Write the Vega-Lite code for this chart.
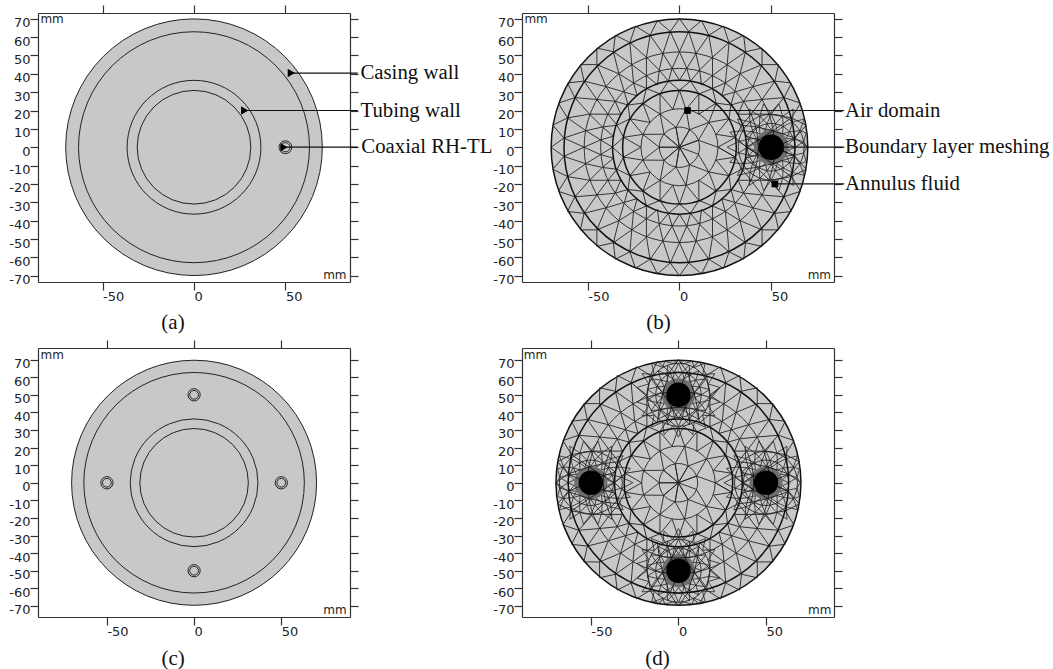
{"$schema":"https://vega.github.io/schema/vega-lite/v6.json","background":"white","padding":{"left":8,"top":4,"right":0,"bottom":0},"resolve":{"scale":{"size":"independent"}},
"config":{"view":{"stroke":null},"axis":{"grid":false,"title":null,"domainColor":"#333","tickColor":"#333","domainWidth":1.2,"tickWidth":1.2,"tickSize":8,"labelFont":"DejaVu Sans","labelFontSize":13,"labelColor":"#222"}},
"datasets":{
"one":[{"x":0,"y":0}],
"base":[{"x":70,"y":0},{"x":63,"y":5},{"x":69,"y":12},{"x":61,"y":16},{"x":66,"y":24},{"x":57,"y":27},{"x":61,"y":35},{"x":52,"y":36},{"x":54,"y":45},{"x":45,"y":45},{"x":45,"y":54},{"x":36,"y":52},{"x":35,"y":61},{"x":27,"y":57},{"x":24,"y":66},{"x":16,"y":61},{"x":12,"y":69},{"x":5,"y":63},{"x":0,"y":70},{"x":-5,"y":63},{"x":-12,"y":69},{"x":-16,"y":61},{"x":-24,"y":66},{"x":-27,"y":57},{"x":-35,"y":61},{"x":-36,"y":52},{"x":-45,"y":54},{"x":-45,"y":45},{"x":-54,"y":45},{"x":-52,"y":36},{"x":-61,"y":35},{"x":-57,"y":27},{"x":-66,"y":24},{"x":-61,"y":16},{"x":-69,"y":12},{"x":-63,"y":5},{"x":-70,"y":0},{"x":-63,"y":-5},{"x":-69,"y":-12},{"x":-61,"y":-16},{"x":-66,"y":-24},{"x":-57,"y":-27},{"x":-61,"y":-35},{"x":-52,"y":-36},{"x":-54,"y":-45},{"x":-45,"y":-45},{"x":-45,"y":-54},{"x":-36,"y":-52},{"x":-35,"y":-61},{"x":-27,"y":-57},{"x":-24,"y":-66},{"x":-16,"y":-61},{"x":-12,"y":-69},{"x":-5,"y":-63},{"x":0,"y":-70},{"x":5,"y":-63},{"x":12,"y":-69},{"x":16,"y":-61},{"x":24,"y":-66},{"x":27,"y":-57},{"x":35,"y":-61},{"x":36,"y":-52},{"x":45,"y":-54},{"x":45,"y":-45},{"x":54,"y":-45},{"x":52,"y":-36},{"x":61,"y":-35},{"x":57,"y":-27},{"x":66,"y":-24},{"x":61,"y":-16},{"x":69,"y":-12},{"x":63,"y":-5},
{"x":52,"y":0},{"x":63,"y":5},{"x":51,"y":9},{"x":61,"y":16},{"x":49,"y":18},{"x":57,"y":27},{"x":45,"y":26},{"x":52,"y":36},{"x":40,"y":33},{"x":45,"y":45},{"x":33,"y":40},{"x":36,"y":52},{"x":26,"y":45},{"x":27,"y":57},{"x":18,"y":49},{"x":16,"y":61},{"x":9,"y":51},{"x":5,"y":63},{"x":0,"y":52},{"x":-5,"y":63},{"x":-9,"y":51},{"x":-16,"y":61},{"x":-18,"y":49},{"x":-27,"y":57},{"x":-26,"y":45},{"x":-36,"y":52},{"x":-33,"y":40},{"x":-45,"y":45},{"x":-40,"y":33},{"x":-52,"y":36},{"x":-45,"y":26},{"x":-57,"y":27},{"x":-49,"y":18},{"x":-61,"y":16},{"x":-51,"y":9},{"x":-63,"y":5},{"x":-52,"y":0},{"x":-63,"y":-5},{"x":-51,"y":-9},{"x":-61,"y":-16},{"x":-49,"y":-18},{"x":-57,"y":-27},{"x":-45,"y":-26},{"x":-52,"y":-36},{"x":-40,"y":-33},{"x":-45,"y":-45},{"x":-33,"y":-40},{"x":-36,"y":-52},{"x":-26,"y":-45},{"x":-27,"y":-57},{"x":-18,"y":-49},{"x":-16,"y":-61},{"x":-9,"y":-51},{"x":-5,"y":-63},{"x":0,"y":-52},{"x":5,"y":-63},{"x":9,"y":-51},{"x":16,"y":-61},{"x":18,"y":-49},{"x":27,"y":-57},{"x":26,"y":-45},{"x":36,"y":-52},{"x":33,"y":-40},{"x":45,"y":-45},{"x":40,"y":-33},{"x":52,"y":-36},{"x":45,"y":-26},{"x":57,"y":-27},{"x":49,"y":-18},{"x":61,"y":-16},{"x":51,"y":-9},{"x":63,"y":-5},
{"x":52,"y":0},{"x":43,"y":4},{"x":51,"y":9},{"x":42,"y":11},{"x":49,"y":18},{"x":39,"y":18},{"x":45,"y":26},{"x":35,"y":25},{"x":40,"y":33},{"x":30,"y":30},{"x":33,"y":40},{"x":25,"y":35},{"x":26,"y":45},{"x":18,"y":39},{"x":18,"y":49},{"x":11,"y":42},{"x":9,"y":51},{"x":4,"y":43},{"x":0,"y":52},{"x":-4,"y":43},{"x":-9,"y":51},{"x":-11,"y":42},{"x":-18,"y":49},{"x":-18,"y":39},{"x":-26,"y":45},{"x":-25,"y":35},{"x":-33,"y":40},{"x":-30,"y":30},{"x":-40,"y":33},{"x":-35,"y":25},{"x":-45,"y":26},{"x":-39,"y":18},{"x":-49,"y":18},{"x":-42,"y":11},{"x":-51,"y":9},{"x":-43,"y":4},{"x":-52,"y":0},{"x":-43,"y":-4},{"x":-51,"y":-9},{"x":-42,"y":-11},{"x":-49,"y":-18},{"x":-39,"y":-18},{"x":-45,"y":-26},{"x":-35,"y":-25},{"x":-40,"y":-33},{"x":-30,"y":-30},{"x":-33,"y":-40},{"x":-25,"y":-35},{"x":-26,"y":-45},{"x":-18,"y":-39},{"x":-18,"y":-49},{"x":-11,"y":-42},{"x":-9,"y":-51},{"x":-4,"y":-43},{"x":0,"y":-52},{"x":4,"y":-43},{"x":9,"y":-51},{"x":11,"y":-42},{"x":18,"y":-49},{"x":18,"y":-39},{"x":26,"y":-45},{"x":25,"y":-35},{"x":33,"y":-40},{"x":30,"y":-30},{"x":40,"y":-33},{"x":35,"y":-25},{"x":45,"y":-26},{"x":39,"y":-18},{"x":49,"y":-18},{"x":42,"y":-11},{"x":51,"y":-9},{"x":43,"y":-4},
{"x":36.5,"y":0},{"x":43,"y":4},{"x":36,"y":6},{"x":42,"y":11},{"x":34,"y":12},{"x":39,"y":18},{"x":32,"y":18},{"x":35,"y":25},{"x":28,"y":23},{"x":30,"y":30},{"x":23,"y":28},{"x":25,"y":35},{"x":18,"y":32},{"x":18,"y":39},{"x":12,"y":34},{"x":11,"y":42},{"x":6,"y":36},{"x":4,"y":43},{"x":0,"y":36.5},{"x":-4,"y":43},{"x":-6,"y":36},{"x":-11,"y":42},{"x":-12,"y":34},{"x":-18,"y":39},{"x":-18,"y":32},{"x":-25,"y":35},{"x":-23,"y":28},{"x":-30,"y":30},{"x":-28,"y":23},{"x":-35,"y":25},{"x":-32,"y":18},{"x":-39,"y":18},{"x":-34,"y":12},{"x":-42,"y":11},{"x":-36,"y":6},{"x":-43,"y":4},{"x":-36.5,"y":0},{"x":-43,"y":-4},{"x":-36,"y":-6},{"x":-42,"y":-11},{"x":-34,"y":-12},{"x":-39,"y":-18},{"x":-32,"y":-18},{"x":-35,"y":-25},{"x":-28,"y":-23},{"x":-30,"y":-30},{"x":-23,"y":-28},{"x":-25,"y":-35},{"x":-18,"y":-32},{"x":-18,"y":-39},{"x":-12,"y":-34},{"x":-11,"y":-42},{"x":-6,"y":-36},{"x":-4,"y":-43},{"x":0,"y":-36.5},{"x":4,"y":-43},{"x":6,"y":-36},{"x":11,"y":-42},{"x":12,"y":-34},{"x":18,"y":-39},{"x":18,"y":-32},{"x":25,"y":-35},{"x":23,"y":-28},{"x":30,"y":-30},{"x":28,"y":-23},{"x":35,"y":-25},{"x":32,"y":-18},{"x":39,"y":-18},{"x":34,"y":-12},{"x":42,"y":-11},{"x":36,"y":-6},{"x":43,"y":-4},
{"x":36.5,"y":0},{"x":30.5,"y":5.4},{"x":34,"y":12},{"x":27,"y":15.5},{"x":28,"y":23},{"x":20,"y":24},{"x":18,"y":32},{"x":10.6,"y":29},{"x":6,"y":36},{"x":0,"y":31},{"x":-6,"y":36},{"x":-10.6,"y":29},{"x":-18,"y":32},{"x":-20,"y":24},{"x":-28,"y":23},{"x":-27,"y":15.5},{"x":-34,"y":12},{"x":-30.5,"y":5.4},{"x":-36.5,"y":0},{"x":-30.5,"y":-5.4},{"x":-34,"y":-12},{"x":-27,"y":-15.5},{"x":-28,"y":-23},{"x":-20,"y":-24},{"x":-18,"y":-32},{"x":-10.6,"y":-29},{"x":-6,"y":-36},{"x":0,"y":-31},{"x":6,"y":-36},{"x":10.6,"y":-29},{"x":18,"y":-32},{"x":20,"y":-24},{"x":28,"y":-23},{"x":27,"y":-15.5},{"x":34,"y":-12},{"x":30.5,"y":-5.4},
{"x":21,"y":0},{"x":30.5,"y":5.4},{"x":20,"y":7},{"x":27,"y":15.5},{"x":16,"y":13.5},{"x":20,"y":24},{"x":10.5,"y":18},{"x":10.6,"y":29},{"x":3.6,"y":20.7},{"x":0,"y":31},{"x":-3.6,"y":20.7},{"x":-10.6,"y":29},{"x":-10.5,"y":18},{"x":-20,"y":24},{"x":-16,"y":13.5},{"x":-27,"y":15.5},{"x":-20,"y":7},{"x":-30.5,"y":5.4},{"x":-21,"y":0},{"x":-30.5,"y":-5.4},{"x":-20,"y":-7},{"x":-27,"y":-15.5},{"x":-16,"y":-13.5},{"x":-20,"y":-24},{"x":-10.5,"y":-18},{"x":-10.6,"y":-29},{"x":-3.6,"y":-20.7},{"x":0,"y":-31},{"x":3.6,"y":-20.7},{"x":10.6,"y":-29},{"x":10.5,"y":-18},{"x":20,"y":-24},{"x":16,"y":-13.5},{"x":27,"y":-15.5},{"x":20,"y":-7},{"x":30.5,"y":-5.4},
{"x":21,"y":0},{"x":10.3,"y":3.8},{"x":16,"y":13.5},{"x":5.5,"y":9.5},{"x":3.6,"y":20.7},{"x":-1.9,"y":10.8},{"x":-10.5,"y":18},{"x":-8.4,"y":7.1},{"x":-20,"y":7},{"x":-11,"y":0},{"x":-20,"y":-7},{"x":-8.4,"y":-7.1},{"x":-10.5,"y":-18},{"x":-1.9,"y":-10.8},{"x":3.6,"y":-20.7},{"x":5.5,"y":-9.5},{"x":16,"y":-13.5},{"x":10.3,"y":-3.8},
{"x":0,"y":0},{"x":10.3,"y":3.8},{"x":0,"y":0},{"x":5.5,"y":9.5},{"x":0,"y":0},{"x":-1.9,"y":10.8},{"x":0,"y":0},{"x":-8.4,"y":7.1},{"x":0,"y":0},{"x":-11,"y":0},{"x":0,"y":0},{"x":-8.4,"y":-7.1},{"x":0,"y":0},{"x":-1.9,"y":-10.8},{"x":0,"y":0},{"x":5.5,"y":-9.5},{"x":0,"y":0}],
"bE":[{"x":63,"y":0},{"x":59.4,"y":1.6},{"x":62.2,"y":4.4},{"x":58.2,"y":4.8},{"x":60,"y":8.4},{"x":56.1,"y":7.3},{"x":56.5,"y":11.3},{"x":53.2,"y":8.9},{"x":52.3,"y":12.8},{"x":50,"y":9.5},{"x":47.7,"y":12.8},{"x":46.8,"y":8.9},{"x":43.5,"y":11.3},{"x":43.9,"y":7.3},{"x":40,"y":8.4},{"x":41.8,"y":4.8},{"x":37.8,"y":4.4},{"x":40.6,"y":1.6},{"x":37,"y":0},{"x":40.6,"y":-1.6},{"x":37.8,"y":-4.4},{"x":41.8,"y":-4.8},{"x":40,"y":-8.4},{"x":43.9,"y":-7.3},{"x":43.5,"y":-11.3},{"x":46.8,"y":-8.9},{"x":47.7,"y":-12.8},{"x":50,"y":-9.5},{"x":52.3,"y":-12.8},{"x":53.2,"y":-8.9},{"x":56.5,"y":-11.3},{"x":56.1,"y":-7.3},{"x":60,"y":-8.4},{"x":58.2,"y":-4.8},{"x":62.2,"y":-4.4},{"x":59.4,"y":-1.6},{"x":63,"y":0},{"x":67.7,"y":3.1},{"x":62.2,"y":4.4},{"x":65.6,"y":9},{"x":60,"y":8.4},{"x":61.6,"y":13.8},{"x":56.5,"y":11.3},{"x":56.2,"y":16.9},{"x":52.3,"y":12.8},{"x":50,"y":18},{"x":47.7,"y":12.8},{"x":43.8,"y":16.9},{"x":43.5,"y":11.3},{"x":38.4,"y":13.8},{"x":40,"y":8.4},{"x":34.4,"y":9},{"x":37.8,"y":4.4},{"x":32.3,"y":3.1},{"x":37,"y":0},{"x":32.3,"y":-3.1},{"x":37.8,"y":-4.4},{"x":34.4,"y":-9},{"x":40,"y":-8.4},{"x":38.4,"y":-13.8},{"x":43.5,"y":-11.3},{"x":43.8,"y":-16.9},{"x":47.7,"y":-12.8},{"x":50,"y":-18},{"x":52.3,"y":-12.8},{"x":56.2,"y":-16.9},{"x":56.5,"y":-11.3},{"x":61.6,"y":-13.8},{"x":60,"y":-8.4},{"x":65.6,"y":-9},{"x":62.2,"y":-4.4},{"x":67.7,"y":-3.1},
{"x":69.5,"y":0},{"x":67.7,"y":3.1},{"x":69,"y":7.8},{"x":65.6,"y":9},{"x":68,"y":15.3},{"x":61.6,"y":13.8},{"x":62,"y":20.8},{"x":56.2,"y":16.9},{"x":54.2,"y":23.6},{"x":50,"y":18},{"x":45.8,"y":23.6},{"x":43.8,"y":16.9},{"x":38,"y":20.8},{"x":38.4,"y":13.8},{"x":31.6,"y":15.4},{"x":34.4,"y":9},{"x":27.4,"y":8.2},{"x":32.3,"y":3.1},{"x":26,"y":0},{"x":32.3,"y":-3.1},{"x":27.4,"y":-8.2},{"x":34.4,"y":-9},{"x":31.6,"y":-15.4},{"x":38.4,"y":-13.8},{"x":38,"y":-20.8},{"x":43.8,"y":-16.9},{"x":45.8,"y":-23.6},{"x":50,"y":-18},{"x":54.2,"y":-23.6},{"x":56.2,"y":-16.9},{"x":62,"y":-20.8},{"x":61.6,"y":-13.8},{"x":68,"y":-15.3},{"x":65.6,"y":-9},{"x":69,"y":-7.8},{"x":67.7,"y":-3.1}],
"bW":[{"x":-37,"y":0},{"x":-40.6,"y":1.6},{"x":-37.8,"y":4.4},{"x":-41.8,"y":4.8},{"x":-40,"y":8.4},{"x":-43.9,"y":7.3},{"x":-43.5,"y":11.3},{"x":-46.8,"y":8.9},{"x":-47.7,"y":12.8},{"x":-50,"y":9.5},{"x":-52.3,"y":12.8},{"x":-53.2,"y":8.9},{"x":-56.5,"y":11.3},{"x":-56.1,"y":7.3},{"x":-60,"y":8.4},{"x":-58.2,"y":4.8},{"x":-62.2,"y":4.4},{"x":-59.4,"y":1.6},{"x":-63,"y":0},{"x":-59.4,"y":-1.6},{"x":-62.2,"y":-4.4},{"x":-58.2,"y":-4.8},{"x":-60,"y":-8.4},{"x":-56.1,"y":-7.3},{"x":-56.5,"y":-11.3},{"x":-53.2,"y":-8.9},{"x":-52.3,"y":-12.8},{"x":-50,"y":-9.5},{"x":-47.7,"y":-12.8},{"x":-46.8,"y":-8.9},{"x":-43.5,"y":-11.3},{"x":-43.9,"y":-7.3},{"x":-40,"y":-8.4},{"x":-41.8,"y":-4.8},{"x":-37.8,"y":-4.4},{"x":-40.6,"y":-1.6},{"x":-37,"y":0},{"x":-32.3,"y":3.1},{"x":-37.8,"y":4.4},{"x":-34.4,"y":9},{"x":-40,"y":8.4},{"x":-38.4,"y":13.8},{"x":-43.5,"y":11.3},{"x":-43.8,"y":16.9},{"x":-47.7,"y":12.8},{"x":-50,"y":18},{"x":-52.3,"y":12.8},{"x":-56.2,"y":16.9},{"x":-56.5,"y":11.3},{"x":-61.6,"y":13.8},{"x":-60,"y":8.4},{"x":-65.6,"y":9},{"x":-62.2,"y":4.4},{"x":-67.7,"y":3.1},{"x":-63,"y":0},{"x":-67.7,"y":-3.1},{"x":-62.2,"y":-4.4},{"x":-65.6,"y":-9},{"x":-60,"y":-8.4},{"x":-61.6,"y":-13.8},{"x":-56.5,"y":-11.3},{"x":-56.2,"y":-16.9},{"x":-52.3,"y":-12.8},{"x":-50,"y":-18},{"x":-47.7,"y":-12.8},{"x":-43.8,"y":-16.9},{"x":-43.5,"y":-11.3},{"x":-38.4,"y":-13.8},{"x":-40,"y":-8.4},{"x":-34.4,"y":-9},{"x":-37.8,"y":-4.4},{"x":-32.3,"y":-3.1},
{"x":-26,"y":0},{"x":-32.3,"y":3.1},{"x":-27.4,"y":8.2},{"x":-34.4,"y":9},{"x":-31.6,"y":15.4},{"x":-38.4,"y":13.8},{"x":-38,"y":20.8},{"x":-43.8,"y":16.9},{"x":-45.8,"y":23.6},{"x":-50,"y":18},{"x":-54.2,"y":23.6},{"x":-56.2,"y":16.9},{"x":-62,"y":20.8},{"x":-61.6,"y":13.8},{"x":-68,"y":15.3},{"x":-65.6,"y":9},{"x":-69,"y":7.8},{"x":-67.7,"y":3.1},{"x":-69.5,"y":0},{"x":-67.7,"y":-3.1},{"x":-69,"y":-7.8},{"x":-65.6,"y":-9},{"x":-68,"y":-15.3},{"x":-61.6,"y":-13.8},{"x":-62,"y":-20.8},{"x":-56.2,"y":-16.9},{"x":-54.2,"y":-23.6},{"x":-50,"y":-18},{"x":-45.8,"y":-23.6},{"x":-43.8,"y":-16.9},{"x":-38,"y":-20.8},{"x":-38.4,"y":-13.8},{"x":-31.6,"y":-15.4},{"x":-34.4,"y":-9},{"x":-27.4,"y":-8.2},{"x":-32.3,"y":-3.1}],
"bN":[{"x":13,"y":50},{"x":9.4,"y":51.6},{"x":12.2,"y":54.4},{"x":8.2,"y":54.8},{"x":10,"y":58.4},{"x":6.1,"y":57.3},{"x":6.5,"y":61.3},{"x":3.2,"y":58.9},{"x":2.3,"y":62.8},{"x":0,"y":59.5},{"x":-2.3,"y":62.8},{"x":-3.2,"y":58.9},{"x":-6.5,"y":61.3},{"x":-6.1,"y":57.3},{"x":-10,"y":58.4},{"x":-8.2,"y":54.8},{"x":-12.2,"y":54.4},{"x":-9.4,"y":51.6},{"x":-13,"y":50},{"x":-9.4,"y":48.4},{"x":-12.2,"y":45.6},{"x":-8.2,"y":45.2},{"x":-10,"y":41.6},{"x":-6.1,"y":42.7},{"x":-6.5,"y":38.7},{"x":-3.2,"y":41.1},{"x":-2.3,"y":37.2},{"x":0,"y":40.5},{"x":2.3,"y":37.2},{"x":3.2,"y":41.1},{"x":6.5,"y":38.7},{"x":6.1,"y":42.7},{"x":10,"y":41.6},{"x":8.2,"y":45.2},{"x":12.2,"y":45.6},{"x":9.4,"y":48.4},{"x":13,"y":50},{"x":17.7,"y":53.1},{"x":12.2,"y":54.4},{"x":15.6,"y":59},{"x":10,"y":58.4},{"x":11.6,"y":63.8},{"x":6.5,"y":61.3},{"x":6.2,"y":66.9},{"x":2.3,"y":62.8},{"x":0,"y":68},{"x":-2.3,"y":62.8},{"x":-6.2,"y":66.9},{"x":-6.5,"y":61.3},{"x":-11.6,"y":63.8},{"x":-10,"y":58.4},{"x":-15.6,"y":59},{"x":-12.2,"y":54.4},{"x":-17.7,"y":53.1},{"x":-13,"y":50},{"x":-17.7,"y":46.9},{"x":-12.2,"y":45.6},{"x":-15.6,"y":41},{"x":-10,"y":41.6},{"x":-11.6,"y":36.2},{"x":-6.5,"y":38.7},{"x":-6.2,"y":33.1},{"x":-2.3,"y":37.2},{"x":0,"y":32},{"x":2.3,"y":37.2},{"x":6.2,"y":33.1},{"x":6.5,"y":38.7},{"x":11.6,"y":36.2},{"x":10,"y":41.6},{"x":15.6,"y":41},{"x":12.2,"y":45.6},{"x":17.7,"y":46.9},
{"x":23.6,"y":54.2},{"x":18,"y":50},{"x":23.6,"y":45.8},{"x":16.9,"y":43.8},{"x":20.8,"y":38},{"x":13.8,"y":38.4},{"x":15.4,"y":31.6},{"x":9,"y":34.4},{"x":8.2,"y":27.4},{"x":3.1,"y":32.3},{"x":0,"y":26},{"x":-3.1,"y":32.3},{"x":-8.2,"y":27.4},{"x":-9,"y":34.4},{"x":-15.4,"y":31.6},{"x":-13.8,"y":38.4},{"x":-20.8,"y":38},{"x":-16.9,"y":43.8},{"x":-23.6,"y":45.8},{"x":-18,"y":50},{"x":-23.6,"y":54.2},{"x":-16.9,"y":56.2},{"x":-20.8,"y":62},{"x":-13.8,"y":61.6},{"x":-15.3,"y":68},{"x":-9,"y":65.6},{"x":-7.8,"y":69},{"x":-3.1,"y":67.7},{"x":0,"y":69.5},{"x":3.1,"y":67.7},{"x":7.8,"y":69},{"x":9,"y":65.6},{"x":15.3,"y":68},{"x":13.8,"y":61.6},{"x":20.8,"y":62},{"x":16.9,"y":56.2},{"x":23.6,"y":54.2}],
"bS":[{"x":13,"y":-50},{"x":9.4,"y":-48.4},{"x":12.2,"y":-45.6},{"x":8.2,"y":-45.2},{"x":10,"y":-41.6},{"x":6.1,"y":-42.7},{"x":6.5,"y":-38.7},{"x":3.2,"y":-41.1},{"x":2.3,"y":-37.2},{"x":0,"y":-40.5},{"x":-2.3,"y":-37.2},{"x":-3.2,"y":-41.1},{"x":-6.5,"y":-38.7},{"x":-6.1,"y":-42.7},{"x":-10,"y":-41.6},{"x":-8.2,"y":-45.2},{"x":-12.2,"y":-45.6},{"x":-9.4,"y":-48.4},{"x":-13,"y":-50},{"x":-9.4,"y":-51.6},{"x":-12.2,"y":-54.4},{"x":-8.2,"y":-54.8},{"x":-10,"y":-58.4},{"x":-6.1,"y":-57.3},{"x":-6.5,"y":-61.3},{"x":-3.2,"y":-58.9},{"x":-2.3,"y":-62.8},{"x":0,"y":-59.5},{"x":2.3,"y":-62.8},{"x":3.2,"y":-58.9},{"x":6.5,"y":-61.3},{"x":6.1,"y":-57.3},{"x":10,"y":-58.4},{"x":8.2,"y":-54.8},{"x":12.2,"y":-54.4},{"x":9.4,"y":-51.6},{"x":13,"y":-50},{"x":17.7,"y":-46.9},{"x":12.2,"y":-45.6},{"x":15.6,"y":-41},{"x":10,"y":-41.6},{"x":11.6,"y":-36.2},{"x":6.5,"y":-38.7},{"x":6.2,"y":-33.1},{"x":2.3,"y":-37.2},{"x":0,"y":-32},{"x":-2.3,"y":-37.2},{"x":-6.2,"y":-33.1},{"x":-6.5,"y":-38.7},{"x":-11.6,"y":-36.2},{"x":-10,"y":-41.6},{"x":-15.6,"y":-41},{"x":-12.2,"y":-45.6},{"x":-17.7,"y":-46.9},{"x":-13,"y":-50},{"x":-17.7,"y":-53.1},{"x":-12.2,"y":-54.4},{"x":-15.6,"y":-59},{"x":-10,"y":-58.4},{"x":-11.6,"y":-63.8},{"x":-6.5,"y":-61.3},{"x":-6.2,"y":-66.9},{"x":-2.3,"y":-62.8},{"x":0,"y":-68},{"x":2.3,"y":-62.8},{"x":6.2,"y":-66.9},{"x":6.5,"y":-61.3},{"x":11.6,"y":-63.8},{"x":10,"y":-58.4},{"x":15.6,"y":-59},{"x":12.2,"y":-54.4},{"x":17.7,"y":-53.1},
{"x":23.6,"y":-54.2},{"x":18,"y":-50},{"x":23.6,"y":-45.8},{"x":16.9,"y":-43.8},{"x":20.8,"y":-38},{"x":13.8,"y":-38.4},{"x":15.4,"y":-31.6},{"x":9,"y":-34.4},{"x":8.2,"y":-27.4},{"x":3.1,"y":-32.3},{"x":0,"y":-26},{"x":-3.1,"y":-32.3},{"x":-8.2,"y":-27.4},{"x":-9,"y":-34.4},{"x":-15.4,"y":-31.6},{"x":-13.8,"y":-38.4},{"x":-20.8,"y":-38},{"x":-16.9,"y":-43.8},{"x":-23.6,"y":-45.8},{"x":-18,"y":-50},{"x":-23.6,"y":-54.2},{"x":-16.9,"y":-56.2},{"x":-20.8,"y":-62},{"x":-13.8,"y":-61.6},{"x":-15.3,"y":-68},{"x":-9,"y":-65.6},{"x":-7.8,"y":-69},{"x":-3.1,"y":-67.7},{"x":0,"y":-69.5},{"x":3.1,"y":-67.7},{"x":7.8,"y":-69},{"x":9,"y":-65.6},{"x":15.3,"y":-68},{"x":13.8,"y":-61.6},{"x":20.8,"y":-62},{"x":16.9,"y":-56.2},{"x":23.6,"y":-54.2}]
},
"concat":[
{"width":312,"height":269,"encoding":{"x":{"field":"x","type":"quantitative","scale":{"domain":[-85.3,85.3],"nice":false},"axis":null},"y":{"field":"y","type":"quantitative","scale":{"domain":[-73.4,73.1],"nice":false},"axis":null}},"resolve":{"axis":{"x":"independent","y":"independent"}},
"layer":[
{"data":{"name":"one"},"mark":{"type":"point","opacity":0},"encoding":{"x":{"field":"x","type":"quantitative","scale":{"domain":[-85.3,85.3],"nice":false},"axis":{"orient":"bottom","values":[-50,0,50],"labelAlign":"left","labelBaseline":"top","labelPadding":0,"labelExpr":"replace(datum.label,'−','-')"}},"y":{"field":"y","type":"quantitative","scale":{"domain":[-73.4,73.1],"nice":false},"axis":{"orient":"left","values":[-70,-60,-50,-40,-30,-20,-10,0,10,20,30,40,50,60,70],"labelOffset":4,"labelPadding":0,"labelExpr":"replace(datum.label,'−','-')"}}}},
{"data":{"name":"one"},"mark":{"type":"point","opacity":0},"encoding":{"x":{"field":"x","type":"quantitative","scale":{"domain":[-85.3,85.3],"nice":false},"axis":{"orient":"top","values":[-50,0,50],"labels":false}},"y":{"field":"y","type":"quantitative","scale":{"domain":[-73.4,73.1],"nice":false},"axis":{"orient":"right","values":[-70,-60,-50,-40,-30,-20,-10,0,10,20,30,40,50,60,70],"labels":false}}}},
{"data":{"values":[{"x":0,"y":0,"r":70}]},"mark":{"type":"point","filled":true,"fill":"#c8c8c8","stroke":"#222","strokeWidth":1,"opacity":1},"encoding":{"size":{"field":"r","type":"quantitative","scale":{"type":"pow","exponent":2,"domain":[0,70],"range":[0,65860]},"legend":null}}},
{"data":{"values":[{"x":0,"y":0,"r":63},{"x":0,"y":0,"r":36.5},{"x":0,"y":0,"r":31},{"x":50,"y":0,"r":3.5},{"x":50,"y":0,"r":2.5}]},"mark":{"type":"point","filled":false,"stroke":"#222","strokeWidth":1,"opacity":1},"encoding":{"size":{"field":"r","type":"quantitative","scale":{"type":"pow","exponent":2,"domain":[0,70],"range":[0,65860]},"legend":null}}},
{"data":{"values":[{"x":53,"y":40.4,"x2":89.5},{"x":27.7,"y":20,"x2":89.5},{"x":49.5,"y":0,"x2":89.5}]},"mark":{"type":"rule","stroke":"#111","strokeWidth":1.2},"encoding":{"x2":{"field":"x2"}}},
{"data":{"values":[{"x":53.2,"y":40.4},{"x":27.7,"y":20},{"x":49.2,"y":0}]},"mark":{"type":"point","shape":"triangle-right","filled":true,"fill":"black","size":70,"opacity":1}},
{"data":{"values":[{"x":91,"y":40.4,"t":"Casing wall"},{"x":91,"y":20,"t":"Tubing wall"},{"x":91.5,"y":0,"t":"Coaxial RH-TL"}]},"mark":{"type":"text","align":"left","baseline":"middle","font":"Liberation Serif","fontSize":20.8,"fill":"#111"},"encoding":{"text":{"field":"t"}}},
{"data":{"values":[{"x":-84,"y":69.6,"t":"mm"}]},"mark":{"type":"text","align":"left","baseline":"middle","font":"DejaVu Sans","fontSize":12,"fill":"#222"},"encoding":{"text":{"field":"t"}}},
{"data":{"values":[{"x":83.4,"y":-69.5,"t":"mm"}]},"mark":{"type":"text","align":"right","baseline":"middle","font":"DejaVu Sans","fontSize":12,"fill":"#222"},"encoding":{"text":{"field":"t"}}},
{"data":{"values":[{"x":-11.5,"y":-95.6,"t":"(a)"}]},"mark":{"type":"text","align":"center","baseline":"middle","font":"Liberation Serif","fontSize":21,"fill":"#111"},"encoding":{"text":{"field":"t"}}}
]},
{"width":312,"height":269,"encoding":{"x":{"field":"x","type":"quantitative","scale":{"domain":[-85.8,84.2],"nice":false},"axis":null},"y":{"field":"y","type":"quantitative","scale":{"domain":[-73.4,73.1],"nice":false},"axis":null}},"resolve":{"axis":{"x":"independent","y":"independent"}},
"layer":[
{"data":{"name":"one"},"mark":{"type":"point","opacity":0},"encoding":{"x":{"field":"x","type":"quantitative","scale":{"domain":[-85.8,84.2],"nice":false},"axis":{"orient":"bottom","values":[-50,0,50],"labelAlign":"left","labelBaseline":"top","labelPadding":0,"labelExpr":"replace(datum.label,'−','-')"}},"y":{"field":"y","type":"quantitative","scale":{"domain":[-73.4,73.1],"nice":false},"axis":{"orient":"left","values":[-70,-60,-50,-40,-30,-20,-10,0,10,20,30,40,50,60,70],"labelOffset":4,"labelPadding":0,"labelExpr":"replace(datum.label,'−','-')"}}}},
{"data":{"name":"one"},"mark":{"type":"point","opacity":0},"encoding":{"x":{"field":"x","type":"quantitative","scale":{"domain":[-85.8,84.2],"nice":false},"axis":{"orient":"top","values":[-50,0,50],"labels":false}},"y":{"field":"y","type":"quantitative","scale":{"domain":[-73.4,73.1],"nice":false},"axis":{"orient":"right","values":[-70,-60,-50,-40,-30,-20,-10,0,10,20,30,40,50,60,70],"labels":false}}}},
{"data":{"values":[{"x":0,"y":0,"r":70}]},"mark":{"type":"point","filled":true,"fill":"#c8c8c8","stroke":"#111","strokeWidth":1.5,"opacity":1},"encoding":{"size":{"field":"r","type":"quantitative","scale":{"type":"pow","exponent":2,"domain":[0,70],"range":[0,65860]},"legend":null}}},
{"data":{"values":[{"x":0,"y":0,"r":52},{"x":0,"y":0,"r":43},{"x":0,"y":0,"r":21},{"x":0,"y":0,"r":11},{"x":50,"y":0,"r":13},{"x":50,"y":0,"r":18}]},"mark":{"type":"point","filled":false,"stroke":"#222","strokeWidth":0.9,"opacity":1},"encoding":{"size":{"field":"r","type":"quantitative","scale":{"type":"pow","exponent":2,"domain":[0,70],"range":[0,65860]},"legend":null}}},
{"data":{"name":"base"},"mark":{"type":"line","order":false,"stroke":"#222","strokeWidth":0.9}},
{"data":{"name":"bE"},"mark":{"type":"line","order":false,"stroke":"#222","strokeWidth":0.8}},
{"data":{"values":[{"x":0,"y":0,"r":63},{"x":0,"y":0,"r":36.5},{"x":0,"y":0,"r":31}]},"mark":{"type":"point","filled":false,"stroke":"#111","strokeWidth":1.5,"opacity":1},"encoding":{"size":{"field":"r","type":"quantitative","scale":{"type":"pow","exponent":2,"domain":[0,70],"range":[0,65860]},"legend":null}}},
{"data":{"values":[{"x":50,"y":0,"r":9.5}]},"mark":{"type":"point","filled":true,"fill":"black","strokeWidth":0,"opacity":0.45},"encoding":{"size":{"field":"r","type":"quantitative","scale":{"type":"pow","exponent":2,"domain":[0,70],"range":[0,65860]},"legend":null}}},
{"data":{"values":[{"x":50,"y":0,"r":7}]},"mark":{"type":"point","filled":true,"fill":"black","strokeWidth":0,"opacity":1},"encoding":{"size":{"field":"r","type":"quantitative","scale":{"type":"pow","exponent":2,"domain":[0,70],"range":[0,65860]},"legend":null}}},
{"data":{"values":[{"x":4.4,"y":20,"x2":89.8},{"x":56,"y":0,"x2":89.8},{"x":52,"y":-20,"x2":89.8}]},"mark":{"type":"rule","stroke":"#111","strokeWidth":1.2},"encoding":{"x2":{"field":"x2"}}},
{"data":{"values":[{"x":4.4,"y":20},{"x":52,"y":-20}]},"mark":{"type":"point","shape":"square","filled":true,"fill":"black","size":45,"opacity":1}},
{"data":{"values":[{"x":90.2,"y":20,"t":"Air domain"},{"x":90.2,"y":0,"t":"Boundary layer meshing"},{"x":90.2,"y":-20,"t":"Annulus fluid"}]},"mark":{"type":"text","align":"left","baseline":"middle","font":"Liberation Serif","fontSize":20.8,"fill":"#111"},"encoding":{"text":{"field":"t"}}},
{"data":{"values":[{"x":-84.5,"y":69.6,"t":"mm"}]},"mark":{"type":"text","align":"left","baseline":"middle","font":"DejaVu Sans","fontSize":12,"fill":"#222"},"encoding":{"text":{"field":"t"}}},
{"data":{"values":[{"x":82.6,"y":-69.5,"t":"mm"}]},"mark":{"type":"text","align":"right","baseline":"middle","font":"DejaVu Sans","fontSize":12,"fill":"#222"},"encoding":{"text":{"field":"t"}}},
{"data":{"values":[{"x":-11.4,"y":-95.6,"t":"(b)"}]},"mark":{"type":"text","align":"center","baseline":"middle","font":"Liberation Serif","fontSize":21,"fill":"#111"},"encoding":{"text":{"field":"t"}}}
]},
{"width":312,"height":269,"encoding":{"x":{"field":"x","type":"quantitative","scale":{"domain":[-89.5,89.4],"nice":false},"axis":null},"y":{"field":"y","type":"quantitative","scale":{"domain":[-76.3,76.6],"nice":false},"axis":null}},"resolve":{"axis":{"x":"independent","y":"independent"}},
"layer":[
{"data":{"name":"one"},"mark":{"type":"point","opacity":0},"encoding":{"x":{"field":"x","type":"quantitative","scale":{"domain":[-89.5,89.4],"nice":false},"axis":{"orient":"bottom","values":[-50,0,50],"labelAlign":"left","labelBaseline":"top","labelPadding":0,"labelExpr":"replace(datum.label,'−','-')"}},"y":{"field":"y","type":"quantitative","scale":{"domain":[-76.3,76.6],"nice":false},"axis":{"orient":"left","values":[-70,-60,-50,-40,-30,-20,-10,0,10,20,30,40,50,60,70],"labelOffset":4,"labelPadding":0,"labelExpr":"replace(datum.label,'−','-')"}}}},
{"data":{"name":"one"},"mark":{"type":"point","opacity":0},"encoding":{"x":{"field":"x","type":"quantitative","scale":{"domain":[-89.5,89.4],"nice":false},"axis":{"orient":"top","values":[-50,0,50],"labels":false}},"y":{"field":"y","type":"quantitative","scale":{"domain":[-76.3,76.6],"nice":false},"axis":{"orient":"right","values":[-70,-60,-50,-40,-30,-20,-10,0,10,20,30,40,50,60,70],"labels":false}}}},
{"data":{"values":[{"x":0,"y":0,"r":70}]},"mark":{"type":"point","filled":true,"fill":"#c8c8c8","stroke":"#222","strokeWidth":1,"opacity":1},"encoding":{"size":{"field":"r","type":"quantitative","scale":{"type":"pow","exponent":2,"domain":[0,70],"range":[0,60025]},"legend":null}}},
{"data":{"values":[{"x":0,"y":0,"r":63},{"x":0,"y":0,"r":36.5},{"x":0,"y":0,"r":31},{"x":50,"y":0,"r":3.5},{"x":50,"y":0,"r":2.5},{"x":-50,"y":0,"r":3.5},{"x":-50,"y":0,"r":2.5},{"x":0,"y":50,"r":3.5},{"x":0,"y":50,"r":2.5},{"x":0,"y":-50,"r":3.5},{"x":0,"y":-50,"r":2.5}]},"mark":{"type":"point","filled":false,"stroke":"#222","strokeWidth":1,"opacity":1},"encoding":{"size":{"field":"r","type":"quantitative","scale":{"type":"pow","exponent":2,"domain":[0,70],"range":[0,60025]},"legend":null}}},
{"data":{"values":[{"x":-88,"y":72.8,"t":"mm"}]},"mark":{"type":"text","align":"left","baseline":"middle","font":"DejaVu Sans","fontSize":12,"fill":"#222"},"encoding":{"text":{"field":"t"}}},
{"data":{"values":[{"x":87.5,"y":-72.5,"t":"mm"}]},"mark":{"type":"text","align":"right","baseline":"middle","font":"DejaVu Sans","fontSize":12,"fill":"#222"},"encoding":{"text":{"field":"t"}}},
{"data":{"values":[{"x":-12,"y":-100,"t":"(c)"}]},"mark":{"type":"text","align":"center","baseline":"middle","font":"Liberation Serif","fontSize":21,"fill":"#111"},"encoding":{"text":{"field":"t"}}}
]},
{"width":312,"height":269,"encoding":{"x":{"field":"x","type":"quantitative","scale":{"domain":[-89.3,88.8],"nice":false},"axis":null},"y":{"field":"y","type":"quantitative","scale":{"domain":[-76.3,76.6],"nice":false},"axis":null}},"resolve":{"axis":{"x":"independent","y":"independent"}},
"layer":[
{"data":{"name":"one"},"mark":{"type":"point","opacity":0},"encoding":{"x":{"field":"x","type":"quantitative","scale":{"domain":[-89.3,88.8],"nice":false},"axis":{"orient":"bottom","values":[-50,0,50],"labelAlign":"left","labelBaseline":"top","labelPadding":0,"labelExpr":"replace(datum.label,'−','-')"}},"y":{"field":"y","type":"quantitative","scale":{"domain":[-76.3,76.6],"nice":false},"axis":{"orient":"left","values":[-70,-60,-50,-40,-30,-20,-10,0,10,20,30,40,50,60,70],"labelOffset":4,"labelPadding":0,"labelExpr":"replace(datum.label,'−','-')"}}}},
{"data":{"name":"one"},"mark":{"type":"point","opacity":0},"encoding":{"x":{"field":"x","type":"quantitative","scale":{"domain":[-89.3,88.8],"nice":false},"axis":{"orient":"top","values":[-50,0,50],"labels":false}},"y":{"field":"y","type":"quantitative","scale":{"domain":[-76.3,76.6],"nice":false},"axis":{"orient":"right","values":[-70,-60,-50,-40,-30,-20,-10,0,10,20,30,40,50,60,70],"labels":false}}}},
{"data":{"values":[{"x":0,"y":0,"r":70}]},"mark":{"type":"point","filled":true,"fill":"#c8c8c8","stroke":"#111","strokeWidth":1.5,"opacity":1},"encoding":{"size":{"field":"r","type":"quantitative","scale":{"type":"pow","exponent":2,"domain":[0,70],"range":[0,60025]},"legend":null}}},
{"data":{"values":[{"x":0,"y":0,"r":52},{"x":0,"y":0,"r":43},{"x":0,"y":0,"r":21},{"x":0,"y":0,"r":11},{"x":50,"y":0,"r":13},{"x":50,"y":0,"r":18},{"x":-50,"y":0,"r":13},{"x":-50,"y":0,"r":18},{"x":0,"y":50,"r":13},{"x":0,"y":50,"r":18},{"x":0,"y":-50,"r":13},{"x":0,"y":-50,"r":18}]},"mark":{"type":"point","filled":false,"stroke":"#222","strokeWidth":0.9,"opacity":1},"encoding":{"size":{"field":"r","type":"quantitative","scale":{"type":"pow","exponent":2,"domain":[0,70],"range":[0,60025]},"legend":null}}},
{"data":{"name":"base"},"mark":{"type":"line","order":false,"stroke":"#222","strokeWidth":0.9}},
{"data":{"name":"bE"},"mark":{"type":"line","order":false,"stroke":"#222","strokeWidth":0.8}},
{"data":{"name":"bW"},"mark":{"type":"line","order":false,"stroke":"#222","strokeWidth":0.8}},
{"data":{"name":"bN"},"mark":{"type":"line","order":false,"stroke":"#222","strokeWidth":0.8}},
{"data":{"name":"bS"},"mark":{"type":"line","order":false,"stroke":"#222","strokeWidth":0.8}},
{"data":{"values":[{"x":0,"y":0,"r":63},{"x":0,"y":0,"r":36.5},{"x":0,"y":0,"r":31}]},"mark":{"type":"point","filled":false,"stroke":"#111","strokeWidth":1.5,"opacity":1},"encoding":{"size":{"field":"r","type":"quantitative","scale":{"type":"pow","exponent":2,"domain":[0,70],"range":[0,60025]},"legend":null}}},
{"data":{"values":[{"x":50,"y":0,"r":9.5},{"x":-50,"y":0,"r":9.5},{"x":0,"y":50,"r":9.5},{"x":0,"y":-50,"r":9.5}]},"mark":{"type":"point","filled":true,"fill":"black","strokeWidth":0,"opacity":0.45},"encoding":{"size":{"field":"r","type":"quantitative","scale":{"type":"pow","exponent":2,"domain":[0,70],"range":[0,60025]},"legend":null}}},
{"data":{"values":[{"x":50,"y":0,"r":7},{"x":-50,"y":0,"r":7},{"x":0,"y":50,"r":7},{"x":0,"y":-50,"r":7}]},"mark":{"type":"point","filled":true,"fill":"black","strokeWidth":0,"opacity":1},"encoding":{"size":{"field":"r","type":"quantitative","scale":{"type":"pow","exponent":2,"domain":[0,70],"range":[0,60025]},"legend":null}}},
{"data":{"values":[{"x":-88.3,"y":72.8,"t":"mm"}]},"mark":{"type":"text","align":"left","baseline":"middle","font":"DejaVu Sans","fontSize":12,"fill":"#222"},"encoding":{"text":{"field":"t"}}},
{"data":{"values":[{"x":87.3,"y":-72.5,"t":"mm"}]},"mark":{"type":"text","align":"right","baseline":"middle","font":"DejaVu Sans","fontSize":12,"fill":"#222"},"encoding":{"text":{"field":"t"}}},
{"data":{"values":[{"x":-12,"y":-100,"t":"(d)"}]},"mark":{"type":"text","align":"center","baseline":"middle","font":"Liberation Serif","fontSize":21,"fill":"#111"},"encoding":{"text":{"field":"t"}}}
]}
],"columns":2,"spacing":{"row":66,"column":172},"bounds":"flush"}
